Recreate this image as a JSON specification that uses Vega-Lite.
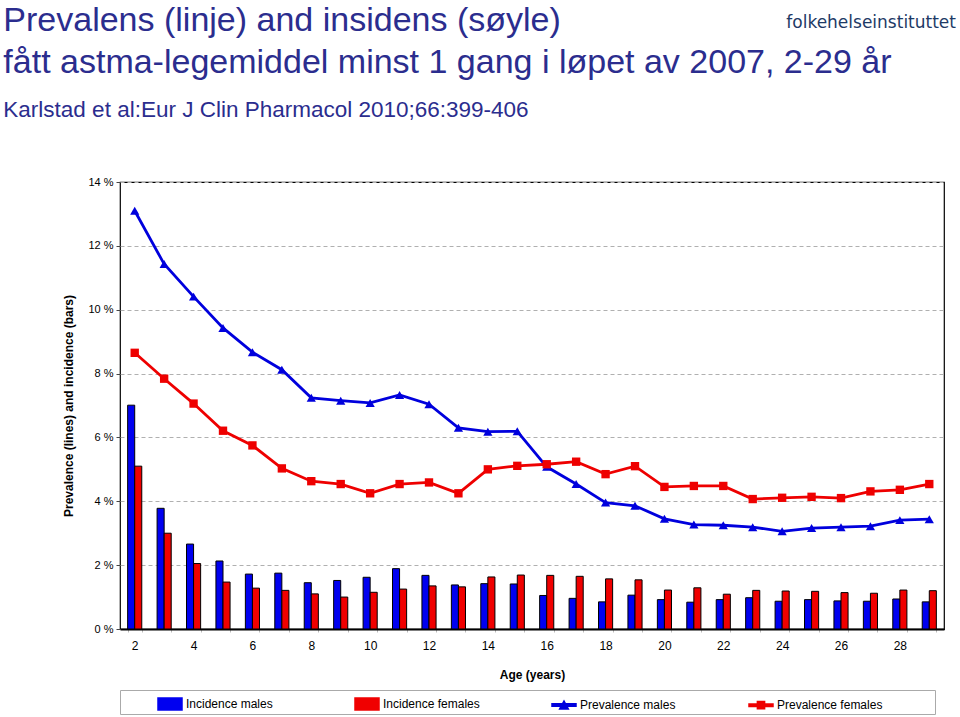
{
  "$schema": "https://vega.github.io/schema/vega-lite/v6.json",
  "padding": {"left": 3, "top": 3, "right": 3, "bottom": 0},
  "background": "white",
  "title": {
    "text": ["Prevalens (linje) and insidens (søyle)", "fått astma-legemiddel minst 1 gang i løpet av 2007, 2-29 år"],
    "subtitle": "Karlstad et al:Eur J Clin Pharmacol 2010;66:399-406",
    "anchor": "start",
    "frame": "bounds",
    "font": "Liberation Sans",
    "fontSize": 34,
    "fontWeight": "normal",
    "color": "#2B2D8E",
    "lineHeight": 42,
    "subtitleFont": "Liberation Sans",
    "subtitleFontSize": 22.5,
    "subtitleColor": "#2B2D8E",
    "subtitlePadding": 19,
    "offset": -108,
    "dx": -59
  },
  "datasets": {
    "rows": [
      {"age": 2, "series": "Incidence males", "value": 7.01}, {"age": 2, "series": "Incidence females", "value": 5.10}, {"age": 2, "series": "Prevalence males", "value": 13.10}, {"age": 2, "series": "Prevalence females", "value": 8.65},
      {"age": 3, "series": "Incidence males", "value": 3.78}, {"age": 3, "series": "Incidence females", "value": 3.00}, {"age": 3, "series": "Prevalence males", "value": 11.43}, {"age": 3, "series": "Prevalence females", "value": 7.84},
      {"age": 4, "series": "Incidence males", "value": 2.66}, {"age": 4, "series": "Incidence females", "value": 2.05}, {"age": 4, "series": "Prevalence males", "value": 10.41}, {"age": 4, "series": "Prevalence females", "value": 7.06},
      {"age": 5, "series": "Incidence males", "value": 2.13}, {"age": 5, "series": "Incidence females", "value": 1.47}, {"age": 5, "series": "Prevalence males", "value": 9.43}, {"age": 5, "series": "Prevalence females", "value": 6.21},
      {"age": 6, "series": "Incidence males", "value": 1.72}, {"age": 6, "series": "Incidence females", "value": 1.28}, {"age": 6, "series": "Prevalence males", "value": 8.67}, {"age": 6, "series": "Prevalence females", "value": 5.75},
      {"age": 7, "series": "Incidence males", "value": 1.75}, {"age": 7, "series": "Incidence females", "value": 1.21}, {"age": 7, "series": "Prevalence males", "value": 8.12}, {"age": 7, "series": "Prevalence females", "value": 5.03},
      {"age": 8, "series": "Incidence males", "value": 1.45}, {"age": 8, "series": "Incidence females", "value": 1.10}, {"age": 8, "series": "Prevalence males", "value": 7.24}, {"age": 8, "series": "Prevalence females", "value": 4.63},
      {"age": 9, "series": "Incidence males", "value": 1.52}, {"age": 9, "series": "Incidence females", "value": 1.00}, {"age": 9, "series": "Prevalence males", "value": 7.15}, {"age": 9, "series": "Prevalence females", "value": 4.54},
      {"age": 10, "series": "Incidence males", "value": 1.62}, {"age": 10, "series": "Incidence females", "value": 1.15}, {"age": 10, "series": "Prevalence males", "value": 7.08}, {"age": 10, "series": "Prevalence females", "value": 4.25},
      {"age": 11, "series": "Incidence males", "value": 1.89}, {"age": 11, "series": "Incidence females", "value": 1.25}, {"age": 11, "series": "Prevalence males", "value": 7.33}, {"age": 11, "series": "Prevalence females", "value": 4.54},
      {"age": 12, "series": "Incidence males", "value": 1.68}, {"age": 12, "series": "Incidence females", "value": 1.35}, {"age": 12, "series": "Prevalence males", "value": 7.04}, {"age": 12, "series": "Prevalence females", "value": 4.59},
      {"age": 13, "series": "Incidence males", "value": 1.38}, {"age": 13, "series": "Incidence females", "value": 1.32}, {"age": 13, "series": "Prevalence males", "value": 6.30}, {"age": 13, "series": "Prevalence females", "value": 4.25},
      {"age": 14, "series": "Incidence males", "value": 1.42}, {"age": 14, "series": "Incidence females", "value": 1.63}, {"age": 14, "series": "Prevalence males", "value": 6.18}, {"age": 14, "series": "Prevalence females", "value": 5.00},
      {"age": 15, "series": "Incidence males", "value": 1.41}, {"age": 15, "series": "Incidence females", "value": 1.69}, {"age": 15, "series": "Prevalence males", "value": 6.19}, {"age": 15, "series": "Prevalence females", "value": 5.11},
      {"age": 16, "series": "Incidence males", "value": 1.05}, {"age": 16, "series": "Incidence females", "value": 1.68}, {"age": 16, "series": "Prevalence males", "value": 5.08}, {"age": 16, "series": "Prevalence females", "value": 5.16},
      {"age": 17, "series": "Incidence males", "value": 0.96}, {"age": 17, "series": "Incidence females", "value": 1.65}, {"age": 17, "series": "Prevalence males", "value": 4.54}, {"age": 17, "series": "Prevalence females", "value": 5.24},
      {"age": 18, "series": "Incidence males", "value": 0.85}, {"age": 18, "series": "Incidence females", "value": 1.57}, {"age": 18, "series": "Prevalence males", "value": 3.96}, {"age": 18, "series": "Prevalence females", "value": 4.85},
      {"age": 19, "series": "Incidence males", "value": 1.06}, {"age": 19, "series": "Incidence females", "value": 1.54}, {"age": 19, "series": "Prevalence males", "value": 3.86}, {"age": 19, "series": "Prevalence females", "value": 5.10},
      {"age": 20, "series": "Incidence males", "value": 0.92}, {"age": 20, "series": "Incidence females", "value": 1.22}, {"age": 20, "series": "Prevalence males", "value": 3.45}, {"age": 20, "series": "Prevalence females", "value": 4.45},
      {"age": 21, "series": "Incidence males", "value": 0.84}, {"age": 21, "series": "Incidence females", "value": 1.29}, {"age": 21, "series": "Prevalence males", "value": 3.27}, {"age": 21, "series": "Prevalence females", "value": 4.48},
      {"age": 22, "series": "Incidence males", "value": 0.92}, {"age": 22, "series": "Incidence females", "value": 1.09}, {"age": 22, "series": "Prevalence males", "value": 3.25}, {"age": 22, "series": "Prevalence females", "value": 4.48},
      {"age": 23, "series": "Incidence males", "value": 0.98}, {"age": 23, "series": "Incidence females", "value": 1.21}, {"age": 23, "series": "Prevalence males", "value": 3.19}, {"age": 23, "series": "Prevalence females", "value": 4.07},
      {"age": 24, "series": "Incidence males", "value": 0.87}, {"age": 24, "series": "Incidence females", "value": 1.19}, {"age": 24, "series": "Prevalence males", "value": 3.06}, {"age": 24, "series": "Prevalence females", "value": 4.11},
      {"age": 25, "series": "Incidence males", "value": 0.92}, {"age": 25, "series": "Incidence females", "value": 1.18}, {"age": 25, "series": "Prevalence males", "value": 3.16}, {"age": 25, "series": "Prevalence females", "value": 4.14},
      {"age": 26, "series": "Incidence males", "value": 0.88}, {"age": 26, "series": "Incidence females", "value": 1.14}, {"age": 26, "series": "Prevalence males", "value": 3.19}, {"age": 26, "series": "Prevalence females", "value": 4.10},
      {"age": 27, "series": "Incidence males", "value": 0.87}, {"age": 27, "series": "Incidence females", "value": 1.12}, {"age": 27, "series": "Prevalence males", "value": 3.22}, {"age": 27, "series": "Prevalence females", "value": 4.31},
      {"age": 28, "series": "Incidence males", "value": 0.94}, {"age": 28, "series": "Incidence females", "value": 1.22}, {"age": 28, "series": "Prevalence males", "value": 3.41}, {"age": 28, "series": "Prevalence females", "value": 4.36},
      {"age": 29, "series": "Incidence males", "value": 0.85}, {"age": 29, "series": "Incidence females", "value": 1.20}, {"age": 29, "series": "Prevalence males", "value": 3.44}, {"age": 29, "series": "Prevalence females", "value": 4.54}
    ]
  },
  "vconcat": [
    {
      "title": {
        "text": "folkehelseinstituttet",
        "anchor": "end",
        "frame": "group",
        "font": "DejaVu Sans",
        "fontSize": 17,
        "fontWeight": "normal",
        "color": "#1E3A66",
        "offset": 144,
        "dx": 12
      },
      "width": 824,
      "height": 447,
      "data": {"name": "rows"},
      "encoding": {
        "x": {
          "field": "age",
          "type": "ordinal",
          "sort": "ascending",
          "scale": {"paddingInner": 0.52, "paddingOuter": 0.26},
          "axis": {
            "title": "Age (years)",
            "titleFontWeight": "bold",
            "titleFontSize": 12,
            "titlePadding": 18,
            "labelAngle": 0,
            "labelFontSize": 12,
            "labelPadding": 8,
            "labelExpr": "datum.value % 2 == 0 ? datum.label : ''",
            "tickBand": "extent",
            "tickSize": 3,
            "tickColor": "#bbbbbb",
            "domainColor": "black",
            "domainWidth": 2,
            "grid": false
          }
        },
        "y": {
          "field": "value",
          "type": "quantitative",
          "scale": {"domain": [0, 14], "nice": false},
          "axis": {
            "title": "Prevalence (lines) and incidence (bars)",
            "titleFontWeight": "bold",
            "titleFontSize": 12,
            "titlePadding": 12,
            "values": [0, 2, 4, 6, 8, 10, 12, 14],
            "labelExpr": "datum.value + ' %'",
            "labelFontSize": 11,
            "labelPadding": 3,
            "tickSize": 4,
            "tickColor": "#444",
            "domain": false,
            "grid": true,
            "gridDash": [4, 3],
            "gridColor": "#b0b0b0",
            "gridOpacity": 1
          }
        }
      },
      "layer": [
        {
          "transform": [{"filter": "indexof(datum.series, 'Incidence') == 0"}],
          "mark": {"type": "bar"},
          "encoding": {
            "xOffset": {"field": "series", "type": "nominal", "scale": {"domain": ["Incidence males", "Incidence females"], "paddingInner": 0, "paddingOuter": 0}},
            "stroke": {"value": "black"},
            "strokeWidth": {"value": 1},
            "color": {
              "field": "series",
              "type": "nominal",
              "scale": {
                "domain": ["Incidence males", "Incidence females", "Prevalence males", "Prevalence females"],
                "range": ["#0000F0", "#F00000", "#0000DD", "#EE0000"]
              },
              "legend": {
                "title": " ",
                "titleOrient": "right",
                "titlePadding": 52,
                "orient": "bottom",
                "direction": "horizontal",
                "columns": 4,
                "gridAlign": "all",
                "columnPadding": 26,
                "labelFont": "Liberation Sans",
                "labelFontSize": 12,
                "labelColor": "black",
                "labelOffset": 3,
                "symbolSize": 576,
                "symbolOffset": 36,
                "strokeColor": "#aaaaaa",
                "padding": 1,
                "offset": 9
              }
            }
          }
        },
        {
          "transform": [{"filter": "indexof(datum.series, 'Prevalence') == 0"}],
          "mark": {"type": "line", "strokeWidth": 2.8},
          "encoding": {
            "color": {"field": "series", "type": "nominal"}
          }
        },
        {
          "transform": [{"filter": "datum.series == 'Prevalence males'"}],
          "mark": {"type": "point", "filled": true, "opacity": 1, "size": 85, "shape": "triangle-up"},
          "encoding": {
            "color": {"field": "series", "type": "nominal"}
          }
        },
        {
          "transform": [{"filter": "datum.series == 'Prevalence females'"}],
          "mark": {"type": "point", "filled": true, "opacity": 1, "size": 70, "shape": "square"},
          "encoding": {
            "color": {"field": "series", "type": "nominal"}
          }
        },
        {
          "mark": {"type": "point", "filled": true, "opacity": 1, "size": 0},
          "encoding": {
            "color": {"field": "series", "type": "nominal"},
            "shape": {
              "field": "series",
              "type": "nominal",
              "scale": {
                "domain": ["Incidence males", "Incidence females", "Prevalence males", "Prevalence females"],
                "range": [
                  "M-1,-0.5L1,-0.5L1,0.5L-1,0.5Z",
                  "M-1,-0.5L1,-0.5L1,0.5L-1,0.5Z",
                  "M-1,-0.1L1,-0.1L1,0.1L-1,0.1ZM-0.36,0.33L0,-0.33L0.36,0.33Z",
                  "M-1,-0.1L1,-0.1L1,0.1L-1,0.1ZM-0.3,-0.3L0.3,-0.3L0.3,0.3L-0.3,0.3Z"
                ]
              },
              "legend": {
                "title": " ",
                "titleOrient": "right",
                "titlePadding": 52,
                "orient": "bottom",
                "direction": "horizontal",
                "columns": 4,
                "gridAlign": "all",
                "columnPadding": 26,
                "labelFont": "Liberation Sans",
                "labelFontSize": 12,
                "labelColor": "black",
                "labelOffset": 3,
                "symbolSize": 576,
                "symbolOffset": 36,
                "strokeColor": "#aaaaaa",
                "padding": 1,
                "offset": 9
              }
            }
          }
        }
      ]
    }
  ],
  "config": {
    "font": "Liberation Sans",
    "view": {"stroke": "black", "strokeWidth": 1.2},
    "axis": {"labelColor": "black", "titleColor": "black", "labelFont": "Liberation Sans", "titleFont": "Liberation Sans"}
  }
}
